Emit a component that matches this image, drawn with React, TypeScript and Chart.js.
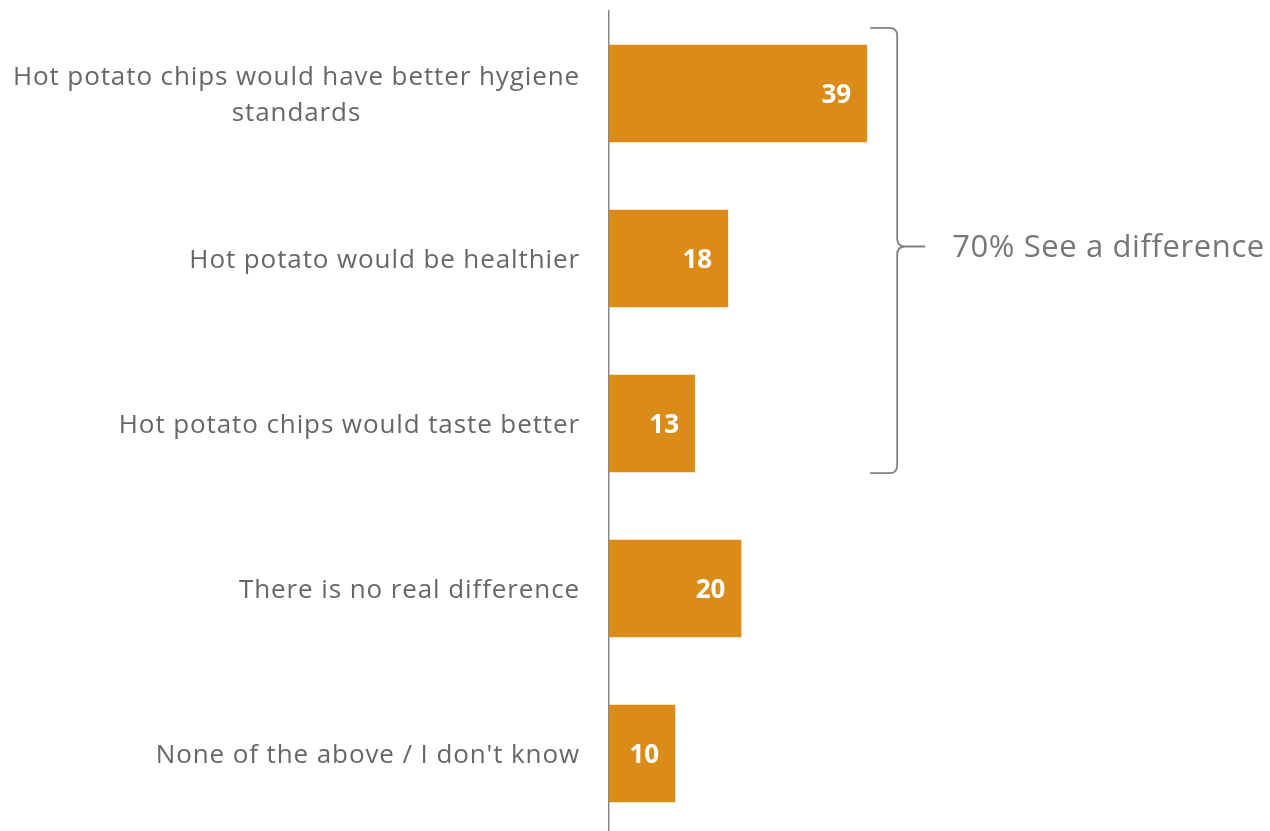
import React, { useEffect, useRef } from 'react';
import { Chart, registerables } from 'chart.js';

Chart.register(...registerables);

const categories: string[][] = [
  ['Hot potato chips would have better hygiene', 'standards'],
  ['Hot potato would be healthier'],
  ['Hot potato chips would taste better'],
  ['There is no real difference'],
  ["None of the above / I don't know"],
];
const values: number[] = [39, 18, 13, 20, 10];
const bracketText = '70% See a difference';
const bracketFirst = 0;
const bracketLast = 2;

const overlay = {
  id: 'overlay',
  afterDatasetsDraw(chart: any) {
    const ctx = chart.ctx as any;
    const yScale = chart.scales.y;
    const xScale = chart.scales.x;
    const meta = chart.getDatasetMeta(0);
    ctx.save();

    // category labels
    ctx.font = '26px "Open Sans"';
    ctx.letterSpacing = '0.9px';
    ctx.fillStyle = '#676767';
    ctx.textBaseline = 'middle';
    ctx.textAlign = 'center';
    const right = chart.chartArea.left - 29;
    const lh = 36;
    categories.forEach((lines, i) => {
      const cy = yScale.getPixelForValue(i) + 2;
      const w = Math.max(...lines.map((l) => ctx.measureText(l).width));
      const cx = right - w / 2;
      lines.forEach((l, j) => {
        ctx.fillText(l, cx, cy + (j - (lines.length - 1) / 2) * lh);
      });
    });

    // value labels
    ctx.letterSpacing = '0px';
    ctx.font = 'bold 26px "Open Sans"';
    ctx.fillStyle = '#ffffff';
    ctx.textAlign = 'right';
    meta.data.forEach((bar: any, i: number) => {
      ctx.fillText(String(values[i]), bar.x - 16, bar.y + 2);
    });

    // bracket
    const b0 = meta.data[bracketFirst];
    const b1 = meta.data[bracketLast];
    const top = b0.y - b0.height / 2 - 17;
    const bot = b1.y + b1.height / 2 + 1;
    const mid = (top + bot) / 2 - 4;
    const x0 = xScale.getPixelForValue(values[bracketFirst]) + 3;
    const xv = x0 + 27;
    const xt = x0 + 55;
    const r = 8;
    ctx.strokeStyle = '#808080';
    ctx.lineWidth = 1.8;
    ctx.beginPath();
    ctx.moveTo(x0, top);
    ctx.lineTo(xv - r, top);
    ctx.quadraticCurveTo(xv, top, xv, top + r);
    ctx.lineTo(xv, mid - r);
    ctx.quadraticCurveTo(xv, mid, xv + r, mid);
    ctx.lineTo(xt, mid);
    ctx.moveTo(xv + r, mid);
    ctx.quadraticCurveTo(xv, mid, xv, mid + r);
    ctx.lineTo(xv, bot - r);
    ctx.quadraticCurveTo(xv, bot, xv - r, bot);
    ctx.lineTo(x0, bot);
    ctx.stroke();

    ctx.font = '31px "Open Sans"';
    ctx.letterSpacing = '0.6px';
    ctx.fillStyle = '#777777';
    ctx.textAlign = 'left';
    ctx.textBaseline = 'middle';
    ctx.fillText(bracketText, xt + 27, mid + 2);

    ctx.restore();
  },
};

export default function App() {
  const ref = useRef<HTMLCanvasElement | null>(null);
  useEffect(() => {
    if (!ref.current) return;
    const chart = new Chart(ref.current, {
      type: 'bar',
      data: {
        labels: categories.map((c) => c.join(' ')),
        datasets: [
          {
            data: values,
            backgroundColor: '#DB8B17',
            borderWidth: 0,
            barPercentage: 0.59,
            categoryPercentage: 1,
          },
        ],
      },
      options: {
        indexAxis: 'y',
        responsive: false,
        animation: false,
        devicePixelRatio: 1,
        layout: { padding: { top: 11, right: 330, bottom: 0, left: 0 } },
        plugins: { legend: { display: false }, tooltip: { enabled: false } },
        scales: {
          x: { type: 'linear', min: 0, max: 50, display: false },
          y: {
            ticks: { display: false },
            grid: { display: false, drawTicks: false },
            border: { display: true, color: '#888888', width: 1.5 },
            afterFit(s: any) {
              s.width = 609;
            },
          },
        },
      },
      plugins: [overlay],
    });
    return () => chart.destroy();
  }, []);
  return (
    <div
      style={{
        position: 'fixed',
        left: 0,
        top: 0,
        width: 1270,
        height: 831,
        overflow: 'hidden',
        background: '#ffffff',
      }}
    >
      <canvas ref={ref} width={1270} height={836} style={{ display: 'block' }} />
    </div>
  );
}
